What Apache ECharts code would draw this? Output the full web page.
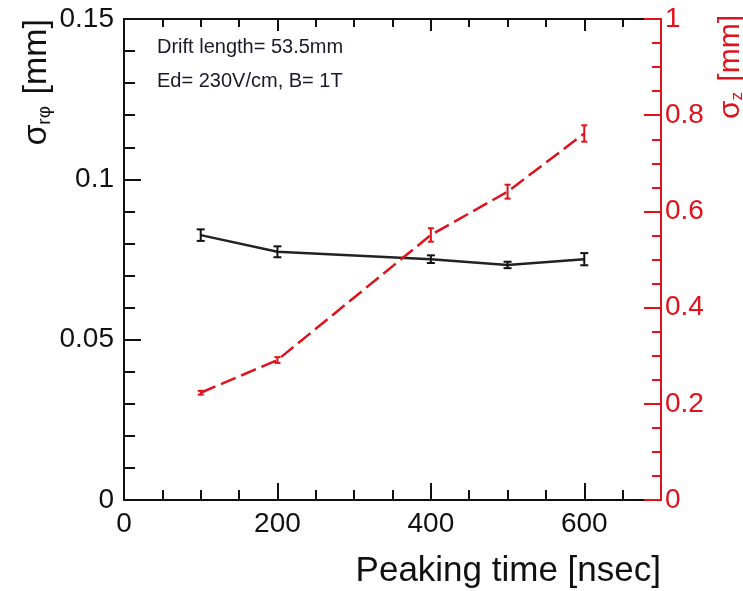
<!DOCTYPE html>
<html>
<head>
<meta charset="utf-8">
<script src="https://cdn.jsdelivr.net/npm/echarts@6/dist/echarts.min.js"></script>
<style>
html,body{margin:0;padding:0;background:#fff;}
#chart{width:743px;height:591px;}
</style>
</head>
<body>
<div id="chart"></div>
<script>
// ---- data ----
const peakingTimes = [100, 200, 400, 500, 600];
const sigmaRphi    = [0.0826, 0.0774, 0.0751, 0.0733, 0.0751];
const sigmaRphiErr = [0.0018, 0.0017, 0.0012, 0.0010, 0.0019];
const sigmaZ       = [0.223, 0.291, 0.551, 0.641, 0.762];
const sigmaZErr    = [0.004, 0.006, 0.014, 0.0145, 0.017];
const xTickLabels  = [0, 200, 400, 600];
const annotations  = ['Drift length= 53.5mm', 'Ed= 230V/cm, B= 1T'];

const FONT = "'Liberation Sans', Arial, Helvetica, sans-serif";
const BLACK = '#111111';
const RED = '#e0121c';

const chart = echarts.init(document.getElementById('chart'), null, {renderer: 'canvas'});

function errorBarSeries(name, xs, ys, es, yIdx, color, capHalf) {
  return {
    name: name,
    type: 'custom',
    xAxisIndex: 0,
    yAxisIndex: yIdx,
    z: 4,
    data: xs.map((x, i) => [x, ys[i], es[i]]),
    renderItem: function (params, api) {
      const x = api.value(0), y = api.value(1), e = api.value(2);
      const top = api.coord([x, y + e]);
      const bot = api.coord([x, y - e]);
      const st = {stroke: color, lineWidth: 2};
      return {
        type: 'group',
        children: [
          {type: 'line', shape: {x1: top[0], y1: top[1], x2: bot[0], y2: bot[1]}, style: st},
          {type: 'line', shape: {x1: top[0] - capHalf, y1: top[1], x2: top[0] + capHalf, y2: top[1]}, style: st},
          {type: 'line', shape: {x1: bot[0] - capHalf, y1: bot[1], x2: bot[0] + capHalf, y2: bot[1]}, style: st}
        ]
      };
    }
  };
}

const option = {
  backgroundColor: '#ffffff',
  animation: false,
  textStyle: {fontFamily: FONT},
  grid: {left: 124, right: 82, top: 19, bottom: 91, containLabel: false},
  xAxis: [
    { // bottom, minor ticks + labels
      type: 'value', position: 'bottom', min: 0, max: 700, interval: 50, z: 3,
      axisLine: {show: true, onZero: false, lineStyle: {color: BLACK, width: 2}},
      axisTick: {show: true, inside: true, length: 10, lineStyle: {color: BLACK, width: 2}},
      axisLabel: {
        show: true, margin: 10, color: BLACK, fontSize: 28, fontFamily: FONT,
        formatter: v => (xTickLabels.indexOf(v) >= 0 ? String(v) : '')
      },
      splitLine: {show: false},
      name: 'Peaking time [nsec]', nameLocation: 'end', nameGap: 0,
      nameTextStyle: {fontSize: 35, color: BLACK, fontFamily: FONT, align: 'right', verticalAlign: 'top', padding: [54, 0, 0, 0]}
    },
    { // bottom, major ticks
      type: 'value', position: 'bottom', min: 0, max: 700, interval: 200, z: 3,
      axisLine: {show: false, onZero: false},
      axisTick: {show: true, inside: true, length: 17, lineStyle: {color: BLACK, width: 2}},
      axisLabel: {show: false}, splitLine: {show: false}
    },
    { // top, minor ticks
      type: 'value', position: 'top', min: 0, max: 700, interval: 50, z: 3,
      axisLine: {show: true, onZero: false, lineStyle: {color: BLACK, width: 2}},
      axisTick: {show: true, inside: true, length: 8, lineStyle: {color: BLACK, width: 2}},
      axisLabel: {show: false}, splitLine: {show: false}
    },
    { // top, major ticks
      type: 'value', position: 'top', min: 0, max: 700, interval: 200, z: 3,
      axisLine: {show: false, onZero: false},
      axisTick: {show: true, inside: true, length: 12, lineStyle: {color: BLACK, width: 2}},
      axisLabel: {show: false}, splitLine: {show: false}
    }
  ],
  yAxis: [
    {
      type: 'value', position: 'left', min: 0, max: 0.15, interval: 0.05, z: 3,
      axisLine: {show: true, onZero: false, lineStyle: {color: BLACK, width: 2}},
      axisTick: {show: true, inside: true, length: 17, lineStyle: {color: BLACK, width: 2}},
      minorTick: {show: true, splitNumber: 5, length: 11, lineStyle: {color: BLACK, width: 2}},
      axisLabel: {show: true, margin: 10, color: BLACK, fontSize: 28, fontFamily: FONT,
        formatter: v => String(+v.toFixed(3))},
      splitLine: {show: false}, minorSplitLine: {show: false}
    },
    {
      type: 'value', position: 'right', min: 0, max: 1, interval: 0.2, z: 6,
      axisLine: {show: true, onZero: false, lineStyle: {color: RED, width: 2}},
      axisTick: {show: true, inside: true, length: 17, lineStyle: {color: RED, width: 2}},
      minorTick: {show: true, splitNumber: 4, length: 9, lineStyle: {color: RED, width: 2}},
      axisLabel: {show: true, margin: 4, color: RED, fontSize: 28, fontFamily: FONT,
        formatter: v => String(+v.toFixed(2))},
      splitLine: {show: false}, minorSplitLine: {show: false}
    }
  ],
  series: [
    {
      name: 'sigma_rphi', type: 'line', xAxisIndex: 0, yAxisIndex: 0, z: 3,
      data: peakingTimes.map((x, i) => [x, sigmaRphi[i]]),
      symbol: 'none', lineStyle: {color: '#222222', width: 2.5}
    },
    errorBarSeries('sigma_rphi_err', peakingTimes, sigmaRphi, sigmaRphiErr, 0, BLACK, 4),
    {
      name: 'sigma_z', type: 'line', xAxisIndex: 0, yAxisIndex: 1, z: 3,
      data: peakingTimes.map((x, i) => [x, sigmaZ[i]]),
      symbol: 'none', lineStyle: {color: RED, width: 2.5, type: [16, 6]}
    },
    errorBarSeries('sigma_z_err', peakingTimes, sigmaZ, sigmaZErr, 1, RED, 3)
  ],
  graphic: [
    {
      type: 'text', left: 157, top: 37, z: 10,
      style: {text: annotations[0], font: '20px ' + FONT, fill: '#1a1a2a'}
    },
    {
      type: 'text', left: 157, top: 71, z: 10,
      style: {text: annotations[1], font: '20px ' + FONT, fill: '#1a1a2a'}
    },
    {
      type: 'text', x: 34, y: 19, rotation: Math.PI / 2, z: 10,
      style: {
        text: '{s|σ}{b|rφ}{s| [mm]}',
        align: 'right', verticalAlign: 'middle',
        rich: {
          s: {fontSize: 34, fontFamily: FONT, fill: BLACK, lineHeight: 40, verticalAlign: 'bottom'},
          b: {fontSize: 19, fontFamily: FONT, fill: BLACK, lineHeight: 40, verticalAlign: 'bottom', padding: [0, 2, 0, 0]}
        }
      }
    },
    {
      type: 'text', x: 728, y: 15, rotation: Math.PI / 2, z: 10,
      style: {
        text: '{s|σ}{b|z}{s| [mm]}',
        align: 'right', verticalAlign: 'middle',
        rich: {
          s: {fontSize: 30, fontFamily: FONT, fill: RED, lineHeight: 36, verticalAlign: 'bottom'},
          b: {fontSize: 17, fontFamily: FONT, fill: RED, lineHeight: 36, verticalAlign: 'bottom', padding: [0, 2, 0, 0]}
        }
      }
    }
  ]
};
chart.setOption(option);
</script>
</body>
</html>
